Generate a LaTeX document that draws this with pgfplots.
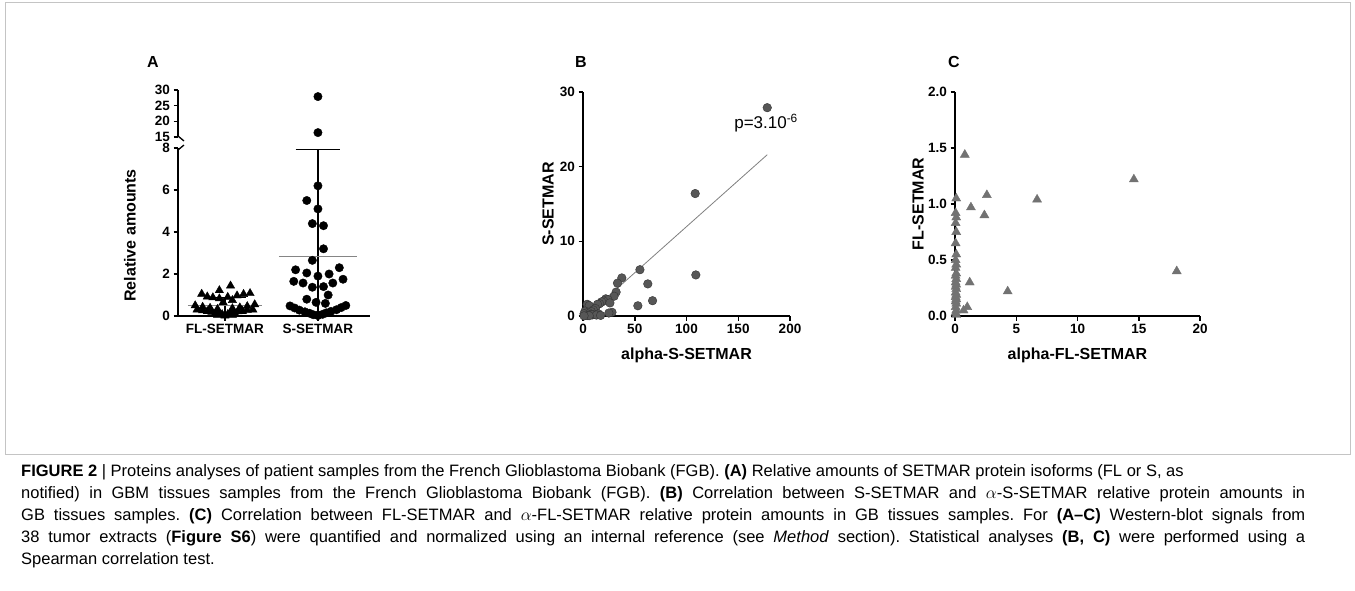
\documentclass[border=0pt]{standalone}
\usepackage{fontspec}
\setmainfont{Liberation Sans}
\usepackage{pgfplots}
\pgfplotsset{compat=1.18}
\frenchspacing

\definecolor{dotgray}{HTML}{575757}
\definecolor{trigray}{HTML}{727272}
\definecolor{meangray}{HTML}{858585}
\definecolor{framegray}{HTML}{C4C4C4}

\pgfplotsset{
  prism/.style={
    scale only axis, anchor=south west, clip=false,
    axis x line*=bottom, axis y line*=left,
    x axis line style={-}, y axis line style={-},
    axis line style={line width=1.8pt},
    tick align=outside, major tick length=4.5pt,
    every tick/.style={line width=1.5pt, black},
    tick label style={font=\bfseries\fontsize{13.5}{13.5}\selectfont},
    /pgf/number format/assume math mode=true,
    label style={font=\bfseries\fontsize{16}{16}\selectfont},
  }
}

\begin{document}
\begin{tikzpicture}
\fill[white] (0,0) rectangle (1355pt,-591pt);
\useasboundingbox (0,0) rectangle (1355pt,-591pt);
\draw[framegray, line width=1pt] (5pt,-3pt) rectangle (1350pt,-454pt);

% panel letters
\node[font=\bfseries\fontsize{16}{16}\selectfont] at (153pt,-62pt) {A};
\node[font=\bfseries\fontsize{16}{16}\selectfont] at (581pt,-62pt) {B};
\node[font=\bfseries\fontsize{16}{16}\selectfont] at (954pt,-62pt) {C};

% ---------- A, lower part of the broken axis
\begin{axis}[prism, at={(178pt,-316pt)}, width=192pt, height=168pt,
  xmin=0.495, xmax=2.56, ymin=0, ymax=8, ytick={0,2,4,6,8},
  xtick={1,2}, xticklabels={FL-SETMAR,S-SETMAR},
  ylabel={Relative amounts},
  ylabel style={at={(axis description cs:-0.25,0.48)}, anchor=center}]
\addplot[only marks, mark=triangle*, mark size=4.8pt, black] coordinates {
  (1.06,1.44) (0.94,1.22) (1.27,1.08) (0.75,1.05) (1.20,1.04) (1.13,0.97)
  (0.81,0.92) (1.03,0.90) (0.87,0.88) (0.94,0.83) (1.08,0.75) (0.98,0.65)
  (1.32,0.55) (0.68,0.50) (1.24,0.46) (0.76,0.43) (1.16,0.40) (0.84,0.38)
  (1.08,0.36) (0.92,0.33) (1.30,0.30) (0.70,0.30) (1.24,0.28) (0.76,0.26)
  (1.19,0.24) (0.81,0.22) (1.14,0.21) (0.86,0.19) (1.10,0.17) (0.90,0.15)
  (1.06,0.13) (0.94,0.11) (1.03,0.08) (0.97,0.08) (1.08,0.05) (0.92,0.05)
  (1.00,0.03) (1.00,0.01)
};
\addplot[only marks, mark=*, mark size=4.2pt, black] coordinates {
  (2.00,6.20) (1.88,5.50) (2.00,5.10) (1.94,4.40) (2.06,4.30) (2.06,3.20)
  (1.94,2.65) (2.23,2.30) (1.76,2.20) (1.88,2.05) (2.12,2.00) (2.00,1.90)
  (2.27,1.75) (1.74,1.65) (1.84,1.57) (2.16,1.57) (2.06,1.40) (1.94,1.37)
  (2.11,1.00) (1.88,0.80) (1.98,0.65) (2.08,0.60)
  (2.30,0.50) (1.70,0.48) (2.25,0.40) (1.75,0.38) (2.20,0.30) (1.80,0.28)
  (2.14,0.22) (1.86,0.20) (2.09,0.15) (1.91,0.13) (2.05,0.08) (1.95,0.06)
  (2.00,0.04) (2.00,0.02)
};
% mean and SD
\addplot[black, line width=1.2pt] coordinates {(2,0) (2,7.92)};
\addplot[black, line width=1.4pt] coordinates {(1.76,7.92) (2.24,7.92)};
\addplot[meangray, line width=1.8pt] coordinates {(1.58,2.83) (2.42,2.83)};
\addplot[black, line width=1.2pt] coordinates {(1,0.12) (1,0.88)};
\addplot[black, line width=1.4pt] coordinates {(0.77,0.88) (1.23,0.88)};
\addplot[black, line width=1.4pt] coordinates {(0.77,0.12) (1.23,0.12)};
\addplot[meangray, line width=1.8pt] coordinates {(0.6,0.50) (1.4,0.50)};
\draw[line width=1.3pt] (rel axis cs:0,1) ++(6pt,3pt) -- ++(-6pt,-5pt);
\end{axis}

% ---------- A, upper part of the broken axis
\begin{axis}[prism, at={(178pt,-137pt)}, width=192pt, height=47pt,
  axis x line=none,
  xmin=0.495, xmax=2.56, ymin=15, ymax=30, ytick={15,20,25,30}]
\addplot[only marks, mark=*, mark size=4.2pt, black] coordinates {
  (2,27.9) (2,16.4)
};
\draw[line width=1.3pt] (rel axis cs:0,0) ++(0pt,1pt) -- ++(6pt,-5pt);
\end{axis}

% ---------- B
\begin{axis}[prism, at={(583pt,-316pt)}, width=207pt, height=224pt,
  xmin=0, xmax=200, ymin=0, ymax=30,
  xtick={0,50,100,150,200}, ytick={0,10,20,30},
  xlabel={alpha-S-SETMAR}, ylabel={S-SETMAR},
  ylabel style={at={(axis description cs:-0.169,0.5)}, anchor=center},
  xlabel style={at={(axis description cs:0.5,-0.174)}, anchor=center}]
\addplot[gray, line width=0.8pt] coordinates {(3.1,0) (178,21.6)};
\addplot[only marks, mark=*, mark size=4.3pt, draw=black!80, fill=dotgray] coordinates {
  (178,27.9) (108.4,16.4) (55,6.2) (109,5.5) (37.5,5.1) (33.3,4.4)
  (62.6,4.3) (32,3.2) (30,2.65) (22,2.3) (24,2.2) (67.2,2.05)
  (20,2.0) (18,1.9) (26,1.75) (16,1.65) (14,1.57) (4,1.57)
  (6,1.4) (53,1.37) (12,1.0) (10,0.8) (2,0.65) (8,0.6)
  (28,0.5) (5,0.48) (25,0.4) (3,0.38) (1,0.3) (15,0.28)
  (11,0.22) (7,0.2) (9,0.15) (13,0.13) (17,0.08) (4,0.06)
  (6,0.04) (1,0.02)
};
\node[anchor=west, font=\fontsize{17}{17}\selectfont, inner sep=0pt]
  at (axis cs:146,25.8) {p=3.10\textsuperscript{-6}};
\end{axis}

% ---------- C
\begin{axis}[prism, at={(955pt,-316pt)}, width=245pt, height=224pt,
  xmin=0, xmax=20, ymin=0, ymax=2,
  xtick={0,5,10,15,20}, ytick={0,0.5,1,1.5,2},
  yticklabel style={/pgf/number format/.cd, fixed, fixed zerofill, precision=1},
  xlabel={alpha-FL-SETMAR}, ylabel={FL-SETMAR},
  ylabel style={at={(axis description cs:-0.151,0.5)}, anchor=center},
  xlabel style={at={(axis description cs:0.5,-0.174)}, anchor=center}]
\addplot[only marks, mark=triangle*, mark size=5.2pt, draw=trigray, fill=trigray] coordinates {
  (0.8,1.44) (14.6,1.22) (2.6,1.08) (0.1,1.05) (6.7,1.04) (1.3,0.97)
  (0.05,0.92) (2.4,0.90) (0.1,0.88) (0.05,0.83) (0.1,0.75) (0.05,0.65)
  (0.1,0.55) (0.05,0.50) (0.1,0.46) (0.05,0.43) (18.1,0.40) (0.1,0.38)
  (0.05,0.36) (0.1,0.33) (1.2,0.30) (0.05,0.30) (0.1,0.28) (0.05,0.26)
  (0.1,0.24) (4.3,0.22) (0.05,0.21) (0.1,0.19) (0.05,0.17) (0.1,0.15)
  (0.05,0.13) (0.1,0.11) (1.0,0.08) (0.05,0.08) (0.7,0.05) (0.1,0.05)
  (0.05,0.03) (0.1,0.01)
};
\end{axis}

% ---------- caption
\node[anchor=north west, inner sep=0pt, text width=1284pt, align=justify,
  font=\fontsize{16.5}{22}\selectfont] at (21pt,-464pt) {%
\tolerance=10000\emergencystretch=0pt\hyphenpenalty=10000\frenchspacing
\textbf{FIGURE 2} | Proteins analyses of patient samples from the French Glioblastoma Biobank (FGB). \textbf{(A)} Relative amounts of SETMAR protein isoforms (FL or S, as\newline
notified) in GBM tissues samples from the French Glioblastoma Biobank (FGB). \textbf{(B)} Correlation between S-SETMAR and $\alpha$-S-SETMAR relative protein amounts in\linebreak
GB tissues samples. \textbf{(C)} Correlation between FL-SETMAR and $\alpha$-FL-SETMAR relative protein amounts in GB tissues samples. For \textbf{(A--C)} Western-blot signals from\linebreak
38 tumor extracts (\textbf{Figure S6}) were quantified and normalized using an internal reference (see \textit{Method} section). Statistical analyses \textbf{(B, C)} were performed using a\linebreak
Spearman correlation test.};
\end{tikzpicture}
\end{document}
